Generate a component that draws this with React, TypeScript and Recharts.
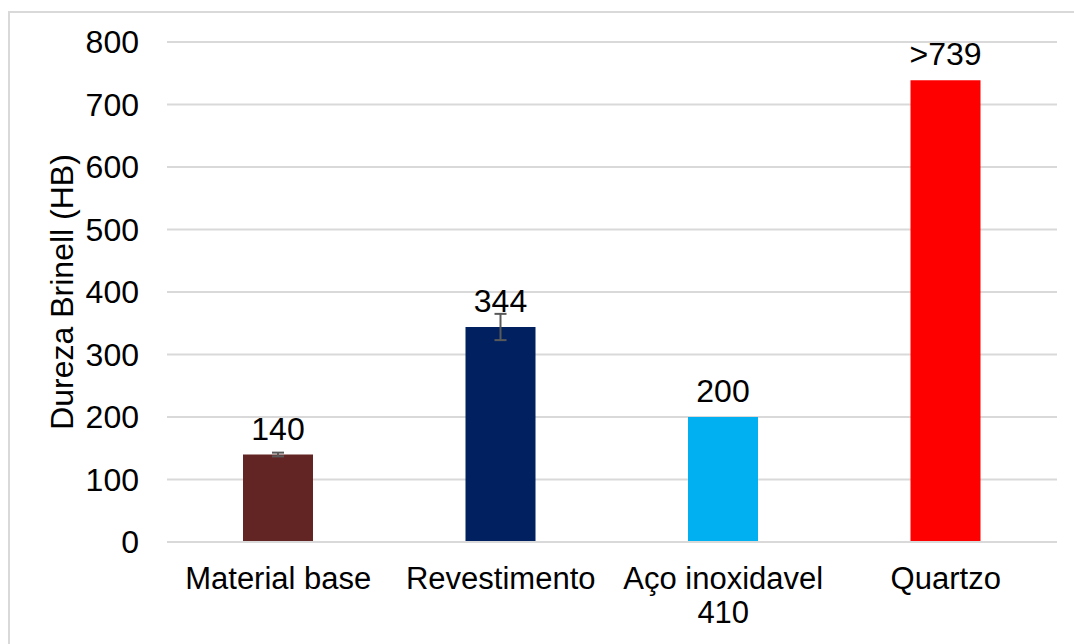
import React from "react";
import { Bar, BarChart, CartesianGrid, Cell, ErrorBar, Label, LabelList, XAxis, YAxis } from "recharts";

const CATEGORIES = ["Material base", "Revestimento", "Aço inoxidavel\n410", "Quartzo"];
const HARDNESS = [140, 344, 200, 739];
const HARDNESS_ERR = [3, 21, 0, 0];
const VALUE_LABELS = ["140", "344", "200", ">739"];
const BAR_COLORS = ["#632523", "#002060", "#00B0F0", "#FF0000"];
const Y_TICKS = [0, 100, 200, 300, 400, 500, 600, 700, 800];

const FONT = "'Liberation Sans', Arial, sans-serif";

const rows = CATEGORIES.map((name, i) => ({
  name,
  hb: HARDNESS[i],
  err: HARDNESS_ERR[i],
  label: VALUE_LABELS[i],
}));

function CategoryTick(props: any) {
  const { x, y, payload } = props;
  const lines = String(payload.value).split("\n");
  return (
    <text x={x} y={y} textAnchor="middle" fontFamily={FONT} fontSize={31} fill="#000">
      {lines.map((line, i) => (
        <tspan key={i} x={x} dy={i === 0 ? 39 : 34}>
          {line}
        </tspan>
      ))}
    </text>
  );
}

function AxisTitle(props: any) {
  const { viewBox } = props;
  const cx = 62;
  const cy = viewBox.y + viewBox.height / 2;
  return (
    <text
      x={cx}
      y={cy}
      transform={`rotate(-90, ${cx}, ${cy})`}
      textAnchor="middle"
      dominantBaseline="central"
      fontFamily={FONT}
      fontSize={32}
      fill="#000"
    >
      Dureza Brinell (HB)
    </text>
  );
}

export default function App() {
  return (
    <div style={{ position: "absolute", left: 0, top: 0, width: 1074, height: 644, background: "#fff", overflow: "hidden" }}>
      <div
        style={{
          position: "absolute",
          left: 8,
          top: 11,
          width: 1100,
          height: 700,
          border: "2px solid #d9d9d9",
          boxSizing: "border-box",
        }}
      />
      <BarChart
        width={1074}
        height={644}
        data={rows}
        margin={{ top: 42, right: 17, bottom: 30, left: 0 }}
        barSize={70}
        style={{ position: "absolute", left: 0, top: 0 }}
      >
        <CartesianGrid vertical={false} stroke="#d9d9d9" strokeWidth={2} />
        <XAxis
          dataKey="name"
          height={72}
          axisLine={{ stroke: "#d9d9d9", strokeWidth: 2 }}
          tickLine={false}
          interval={0}
          tick={<CategoryTick />}
        />
        <YAxis
          width={167}
          domain={[0, 800]}
          ticks={Y_TICKS}
          axisLine={false}
          tickLine={false}
          tickSize={0}
          tickMargin={28}
          tick={{ fontFamily: FONT, fontSize: 32, fill: "#000" }}
        >
          <Label content={<AxisTitle />} />
        </YAxis>
        <Bar dataKey="hb" isAnimationActive={false}>
          {rows.map((r, i) => (
            <Cell key={r.name} fill={BAR_COLORS[i]} />
          ))}
          <ErrorBar dataKey="err" width={6} stroke="#595959" strokeWidth={2} direction="y" />
          <LabelList
            dataKey="label"
            position="top"
            offset={15}
            style={{ fontFamily: FONT, fontSize: 32, fill: "#000" }}
          />
        </Bar>
      </BarChart>
    </div>
  );
}
